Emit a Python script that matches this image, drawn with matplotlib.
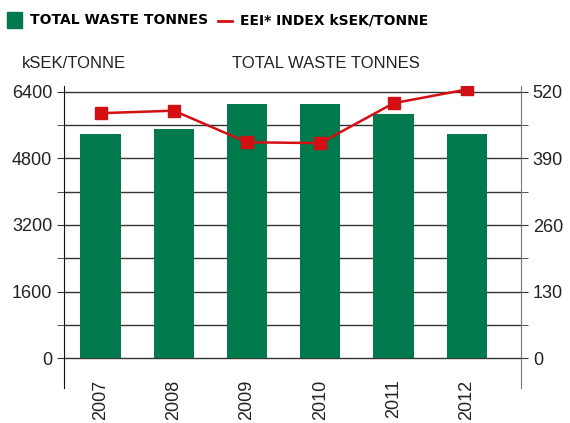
import matplotlib.pyplot as plt
from matplotlib.patches import Rectangle
from matplotlib.lines import Line2D
from matplotlib.ticker import MultipleLocator

# データ
years = ['2007', '2008', '2009', '2010', '2011', '2012']
waste_tonnes = [438, 447, 497, 497, 477, 438]
eei_index = [5890, 5950, 5190, 5170, 6130, 6460]

green = '#007a4d'
red = '#d40f14'
plt.rcParams['font.family'] = ['Liberation Sans', 'DejaVu Sans']

fig = plt.figure(figsize=(5.7, 4.23), dpi=100)
ax = fig.add_axes([0.1123, 0.0827, 0.8017, 0.714])
ax2 = ax.twinx()

x = range(len(years))

# 棒グラフ（右軸）とグリッド
ax2.bar(x, waste_tonnes, width=0.55, color=green, zorder=2)
ax2.set_ylim(-58.6, 531.7)
ax2.yaxis.set_major_locator(MultipleLocator(130))
ax2.yaxis.set_minor_locator(MultipleLocator(65))
ax2.set_yticks([0, 130, 260, 390, 520])
ax2.grid(True, which='both', axis='y', color='#333333', lw=1, zorder=0)
ax2.set_axisbelow(True)

# 折れ線（左軸）
ax.set_zorder(ax2.get_zorder() + 1)
ax.patch.set_visible(False)
ax.plot(x, eei_index, color=red, lw=1.8, marker='s', ms=8.5, zorder=3)
ax.set_ylim(-722, 6544)
ax.set_yticks([0, 1600, 3200, 4800, 6400])
ax.yaxis.set_minor_locator(MultipleLocator(800))
ax.set_xlim(-0.5, 5.74)
ax.set_xticks(list(x))
ax.set_xticklabels(years, rotation=90, fontsize=13, color='#222222')
ax.tick_params(axis='x', length=0, pad=-6)

for a in (ax, ax2):
    a.tick_params(axis='y', which='both', direction='out', length=5,
                  labelsize=13, labelcolor='#222222')
    for s in ('top', 'bottom'):
        a.spines[s].set_visible(False)
ax.spines['left'].set_color('#111111')
ax.spines['right'].set_visible(False)
ax2.spines['left'].set_visible(False)
ax2.spines['right'].set_color('#777777')
ax.tick_params(axis='y', which='both', color='#333333')
ax2.tick_params(axis='y', which='both', color='#333333')

# 凡例
fig.patches.append(Rectangle((7 / 570, 1 - 28 / 423), 15 / 570, 16 / 423,
                             transform=fig.transFigure, color=green))
fig.lines.append(Line2D([218 / 570, 232 / 570], [1 - 21 / 423] * 2,
                        transform=fig.transFigure, color=red, lw=2))
fig.text(30 / 570, 1 - 20 / 423, 'TOTAL WASTE TONNES', fontsize=10,
         fontweight='bold', va='center', family='DejaVu Sans')
fig.text(240 / 570, 1 - 20 / 423, 'EEI* INDEX kSEK/TONNE', fontsize=10,
         fontweight='bold', va='center', family='DejaVu Sans')

# 軸タイトル
fig.text(22 / 570, 1 - 63 / 423, 'kSEK/TONNE', fontsize=12, va='center',
         color='#222222')
fig.text(232 / 570, 1 - 63 / 423, 'TOTAL WASTE TONNES', fontsize=12,
         va='center', color='#222222')

fig.savefig('out.png', dpi=100)
